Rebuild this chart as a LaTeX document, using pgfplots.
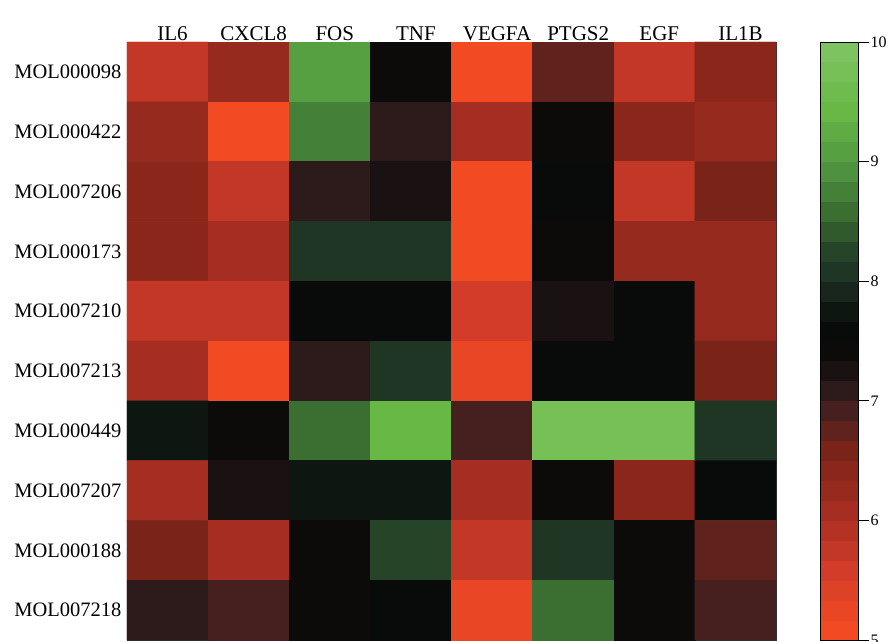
\documentclass[border=0pt]{standalone}
\usepackage{fontspec}
\setmainfont{Liberation Serif}
\usepackage{pgfplots}
\pgfplotsset{compat=1.18}
\pgfplotsset{
  colormap={rgsmooth}{
    rgb255(5.0)=(242,75,35)
    rgb255(5.5)=(212,60,40)
    rgb255(6.0)=(168,46,34)
    rgb255(6.5)=(128,36,24)
    rgb255(6.8)=(85,33,30)
    rgb255(7.0)=(52,30,30)
    rgb255(7.25)=(25,17,18)
    rgb255(7.5)=(6,6,6)
    rgb255(7.8)=(15,25,20)
    rgb255(8.0)=(28,45,35)
    rgb255(8.3)=(38,70,40)
    rgb255(8.6)=(58,108,48)
    rgb255(9.0)=(80,150,65)
    rgb255(9.5)=(105,185,70)
    rgb255(10.0)=(125,195,95)
  },
  colormap={rgdisc}{samples of colormap=(30 of rgsmooth)},
}
\begin{document}
\begin{tikzpicture}
\path[use as bounding box] (-127pt,-2pt) rectangle (764pt,640pt);
\begin{axis}[
  at={(0pt,0pt)}, anchor=south west,
  scale only axis, width=649pt, height=598pt,
  xmin=-0.5, xmax=7.5, ymin=-0.5, ymax=9.5, y dir=reverse,
  enlargelimits=false,
  axis line style={black!80, line width=0.6pt},
  xtick={0,...,7},
  xticklabels={IL6,CXCL8,FOS,TNF,VEGFA,PTGS2,EGF,IL1B},
  xtick pos=right, xticklabel pos=right,
  ytick={0,...,9},
  yticklabels={MOL000098,MOL000422,MOL007206,MOL000173,MOL007210,MOL007213,MOL000449,MOL007207,MOL000188,MOL007218},
  ytick pos=left,
  tick align=inside,
  xtick style={white!85!black, line width=0.7pt},
  ytick style={white!85!black, line width=0.7pt},
  major tick length=6pt,
  xticklabel style={font=\fontsize{21}{22}\selectfont, yshift=-2pt, xshift=5pt},
  yticklabel style={font=\fontsize{20.5}{21}\selectfont, xshift=-2pt},
  colormap name=rgdisc,
  colormap access=piecewise constant,
  point meta min=5, point meta max=10,
  colorbar,
  colorbar style={
    at={(1.0678,1)}, anchor=north west,
    width=38pt,
    axis line style={black, line width=0.8pt},
    ytick={5,6,...,10},
    ytick pos=right, yticklabel pos=right,
    tick align=outside,
    ytick style={black, line width=0.8pt},
    major tick length=11pt,
    yticklabel style={font=\fontsize{16}{16}\selectfont, inner sep=1.5pt},
    /pgf/number format/assume math mode=true,
  },
]
\addplot[matrix plot*, mesh/cols=8, point meta=explicit] table[x=x, y=y, meta=z] {
x y z
0 0 5.7
1 0 6.2
2 0 9.0
3 0 7.35
4 0 5.1
5 0 6.75
6 0 5.7
7 0 6.4
0 1 6.2
1 1 5.1
2 1 8.75
3 1 7.05
4 1 6.05
5 1 7.35
6 1 6.4
7 1 6.2
0 2 6.4
1 2 5.7
2 2 7.05
3 2 7.2
4 2 5.1
5 2 7.55
6 2 5.7
7 2 6.6
0 3 6.4
1 3 6.05
2 3 8.0
3 3 8.0
4 3 5.1
5 3 7.35
6 3 6.2
7 3 6.2
0 4 5.7
1 4 5.7
2 4 7.6
3 4 7.6
4 4 5.5
5 4 7.2
6 4 7.6
7 4 6.2
0 5 6.05
1 5 5.1
2 5 7.05
3 5 8.0
4 5 5.3
5 5 7.65
6 5 7.6
7 5 6.6
0 6 7.8
1 6 7.35
2 6 8.6
3 6 9.5
4 6 6.9
5 6 9.7
6 6 9.7
7 6 8.0
0 7 6.05
1 7 7.2
2 7 7.8
3 7 7.8
4 7 6.05
5 7 7.35
6 7 6.4
7 7 7.65
0 8 6.6
1 8 6.05
2 8 7.35
3 8 8.3
4 8 5.7
5 8 8.05
6 8 7.35
7 8 6.75
0 9 7.05
1 9 6.9
2 9 7.35
3 9 7.55
4 9 5.3
5 9 8.55
6 9 7.35
7 9 6.9
};
\end{axis}
\end{tikzpicture}
\end{document}
